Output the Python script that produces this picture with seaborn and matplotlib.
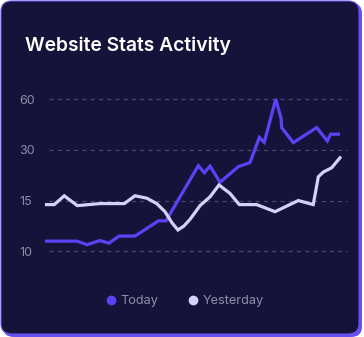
import numpy as np
import pandas as pd
import matplotlib
matplotlib.use("Agg")
import matplotlib.pyplot as plt
from matplotlib.patches import FancyBboxPatch
from matplotlib.lines import Line2D
import seaborn as sns

# ---- data -------------------------------------------------------------
today_t = [0.00, 2.59, 3.41, 4.46, 5.19, 6.00, 7.30, 9.20, 9.81, 12.43, 12.92,
           13.38, 14.19, 15.67, 16.62, 17.38, 17.78, 18.71, 19.14, 19.19, 20.13,
           22.03, 22.89, 23.16, 23.92]
today_v = [11.0, 11.0, 10.65, 11.06, 10.8, 11.5, 11.5, 13.0, 13.0, 25.3, 23.2,
           25.2, 20.4, 25.0, 26.2, 37.3, 34.4, 60.0, 48.6, 43.1, 34.2,
           43.1, 35.2, 39.2, 39.2]

yesterday_t = [0.00, 0.75, 1.56, 2.62, 4.46, 6.43, 7.30, 8.25, 9.06, 9.73, 10.30,
               10.78, 11.27, 11.76, 12.57, 13.38, 14.11, 15.00, 15.75, 17.16,
               18.65, 20.54, 21.75, 22.16, 22.56, 23.25, 24.00]
yesterday_v = [14.6, 14.6, 16.4, 14.5, 14.7, 14.7, 16.4, 15.7, 14.7, 13.9, 12.8,
               12.1, 12.5, 13.15, 14.5, 16.1, 19.6, 17.1, 14.6, 14.6,
               13.9, 15.0, 14.6, 22.0, 23.4, 24.7, 28.0]

series_names = ["Today", "Yesterday"]
y_ticks = [10, 15, 30, 60]
title = "Website Stats Activity"

# ---- colours ----------------------------------------------------------
CARD = "#16133b"
EDGE = "#6650f2"
C_TODAY = "#5b43f5"
C_YEST = "#d7d0f7"
GRID = "#4a4670"
MUTED = "#8f8ca9"

# ---- evenly spaced tick scale (10, 15, 30, 60 one step apart) ---------
_vals = np.array(y_ticks, dtype=float)
_lvls = np.arange(len(_vals), dtype=float)


def _fwd(v):
    v = np.asarray(v, dtype=float)
    out = np.interp(v, _vals, _lvls)
    lo = v < _vals[0]
    hi = v > _vals[-1]
    out = np.where(lo, (v - _vals[0]) / (_vals[1] - _vals[0]), out)
    out = np.where(hi, _lvls[-1] + (v - _vals[-1]) / (_vals[-1] - _vals[-2]), out)
    return out


def _inv(l):
    l = np.asarray(l, dtype=float)
    out = np.interp(l, _lvls, _vals)
    lo = l < 0
    hi = l > _lvls[-1]
    out = np.where(lo, _vals[0] + l * (_vals[1] - _vals[0]), out)
    out = np.where(hi, _vals[-1] + (l - _lvls[-1]) * (_vals[-1] - _vals[-2]), out)
    return out


df = pd.concat([
    pd.DataFrame({"t": today_t, "v": today_v, "series": series_names[0]}),
    pd.DataFrame({"t": yesterday_t, "v": yesterday_v, "series": series_names[1]}),
])

sns.set_theme(style="white")
plt.rcParams["font.family"] = ["Inter", "DejaVu Sans"]

W, H = 364, 337
fig = plt.figure(figsize=(W / 100, H / 100), dpi=100)
fig.patch.set_facecolor("white")

# card with offset purple shadow
fig.patches.append(FancyBboxPatch((3 / W, 0 / H), 359 / W, 334 / H,
                                  boxstyle="round,pad=0,rounding_size=0.03",
                                  transform=fig.transFigure, facecolor=EDGE,
                                  edgecolor="none", zorder=0))
fig.patches.append(FancyBboxPatch((1 / W, 3 / H), 358 / W, 333 / H,
                                  boxstyle="round,pad=0,rounding_size=0.03",
                                  transform=fig.transFigure, facecolor=CARD,
                                  edgecolor=EDGE, linewidth=0.8, zorder=1))

ax_l, ax_r, ax_t, ax_b = 45, 348, 90, 262
ax = fig.add_axes([ax_l / W, (H - ax_b) / H, (ax_r - ax_l) / W, (ax_b - ax_t) / H])
ax.set_zorder(3)
ax.set_facecolor("none")
ax.set_yscale("function", functions=(_fwd, _inv))

sns.lineplot(data=df, x="t", y="v", hue="series", hue_order=series_names,
             palette=[C_TODAY, C_YEST], estimator=None, sort=False,
             linewidth=2.3, ax=ax, legend=False, zorder=3)
for ln in ax.lines:
    ln.set_solid_joinstyle("miter")
    ln.set_solid_capstyle("butt")

# y range: 251.3 px -> 10, 99 px -> 60
px_per_step = (251.3 - 99) / 3
lvl_top = (251.3 - ax_t) / px_per_step
lvl_bot = -(ax_b - 251.3) / px_per_step
ax.set_ylim(float(_inv(lvl_bot)), float(_inv(lvl_top)))
ax.set_xlim(0, (ax_r - ax_l) * 24 / 296)

for yv in y_ticks:
    ax.axhline(yv, xmin=4 / (ax_r - ax_l), xmax=1, color=GRID, lw=0.9,
               ls=(0, (3.2, 3.4)), zorder=1)

ax.set_yticks(y_ticks)
ax.set_yticklabels([str(v) for v in y_ticks], ha="left")
ax.yaxis.set_minor_locator(matplotlib.ticker.NullLocator())
ax.tick_params(axis="y", length=0, pad=(ax_l - 19) * 0.72, colors=MUTED,
               labelsize=9)
ax.set_xticks([])
ax.set_xlabel("")
ax.set_ylabel("")
for s in ax.spines.values():
    s.set_visible(False)

fig.text(25 / W, 1 - 46 / H, title, color="white", fontsize=13.9,
         fontweight="semibold", va="center", ha="left", zorder=4)

handles = [Line2D([], [], ls="none", marker="o", markersize=7,
                  markerfacecolor=c, markeredgecolor="none")
           for c in (C_TODAY, C_YEST)]
leg = fig.legend(handles, series_names, loc="center", ncol=2,
                 bbox_to_anchor=(184 / W, 1 - 301 / H), frameon=False,
                 handletextpad=0.25, columnspacing=2.2, handlelength=1.0,
                 fontsize=9.2)
leg.set_zorder(4)
for txt in leg.get_texts():
    txt.set_color(MUTED)

fig.savefig("out.png", dpi=100, facecolor="white")
